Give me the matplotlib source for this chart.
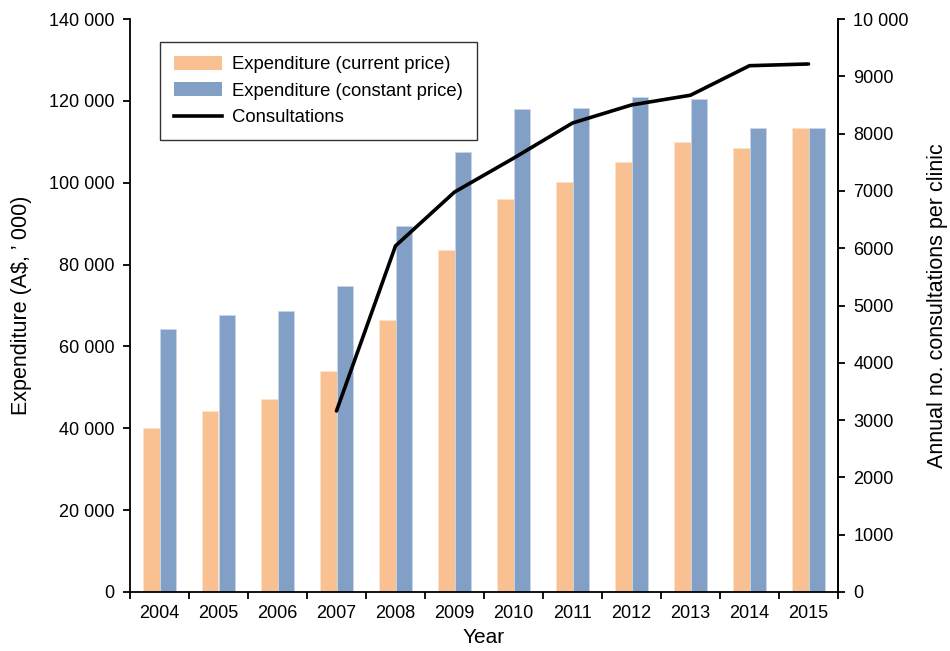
import matplotlib
matplotlib.use("Agg")
import matplotlib.pyplot as plt
import numpy as np
from matplotlib.patches import Patch
from matplotlib.lines import Line2D

plt.rcParams['font.family'] = ['Liberation Sans', 'DejaVu Sans']

years = ['2004', '2005', '2006', '2007', '2008', '2009', '2010', '2011', '2012', '2013', '2014', '2015']
current_price = [40000, 44300, 47100, 53900, 66400, 83600, 96100, 100200, 105100, 110000, 108600, 113400]
constant_price = [64200, 67700, 68700, 74800, 89400, 107400, 118000, 118300, 120900, 120500, 113300, 113400]
cons_years = ['2007', '2008', '2009', '2010', '2011', '2012', '2013', '2014', '2015']
consultations = [3160, 6040, 6980, 7570, 8185, 8500, 8670, 9185, 9215]

left_ticks = [0, 20000, 40000, 60000, 80000, 100000, 120000, 140000]
left_labels = ['0', '20 000', '40 000', '60 000', '80 000', '100 000', '120 000', '140 000']
right_ticks = [0, 1000, 2000, 3000, 4000, 5000, 6000, 7000, 8000, 9000, 10000]
right_labels = ['0', '1000', '2000', '3000', '4000', '5000', '6000', '7000', '8000', '9000', '10 000']

c_orange = '#F9C091'
c_blue = '#829FC5'

fig = plt.figure(figsize=(9.5, 6.51), dpi=100)
ax = fig.add_axes([130/950, 1-592/651, 708/950, 573/651])
x = np.arange(len(years))
w = 0.288
ax.bar(x - w/2, current_price, w, color=c_orange, edgecolor='#fde3cc', linewidth=0.6)
ax.bar(x + w/2, constant_price, w, color=c_blue, edgecolor='#c9d6e8', linewidth=0.6)
ax.set_xlim(-0.5, len(years) - 0.5)
ax.set_ylim(0, 140000)
ax.set_yticks(left_ticks)
ax.set_yticklabels(left_labels, fontsize=13)
ax.set_xticks(x)
ax.set_xticklabels(years, fontsize=13)
ax.tick_params(axis='x', which='major', length=0, pad=9)
ax.set_xticks(np.arange(-0.5, len(years), 1.0), minor=True)
ax.tick_params(axis='x', which='minor', length=5, width=1.3, direction='out')
ax.tick_params(axis='y', length=5, width=1.3, direction='out', pad=6)
ax.spines['top'].set_visible(False)
for s in ['left', 'bottom', 'right']:
    ax.spines[s].set_linewidth(1.3)
ax.set_xlabel('Year', fontsize=15, labelpad=5)
ax.set_ylabel('Expenditure (A$, ’ 000)', fontsize=15.5, labelpad=12)

ax2 = ax.twinx()
cx = [years.index(y) for y in cons_years]
ax2.plot(cx, consultations, color='black', linewidth=2.6, solid_capstyle='round', solid_joinstyle='miter')
ax2.set_ylim(0, 10000)
ax2.set_yticks(right_ticks)
ax2.set_yticklabels(right_labels, fontsize=13)
ax2.tick_params(axis='y', length=5, width=1.3, direction='out', pad=6)
ax2.spines['top'].set_visible(False)
ax2.spines['right'].set_linewidth(1.3)
ax2.spines['left'].set_visible(False)
ax2.spines['bottom'].set_visible(False)
ax2.set_ylabel('Annual no. consultations per clinic', fontsize=15.5, labelpad=13)

handles = [Patch(facecolor=c_orange, edgecolor='none'),
           Patch(facecolor=c_blue, edgecolor='none'),
           Line2D([0], [0], color='black', linewidth=2.6)]
labels = ['Expenditure (current price)', 'Expenditure (constant price)', 'Consultations']
leg = ax2.legend(handles, labels, loc='upper left', bbox_to_anchor=(0.043, 0.96),
                 fontsize=13.3, frameon=True, fancybox=False, edgecolor='black',
                 borderpad=0.75, handlelength=2.6, handleheight=0.78, labelspacing=0.5,
                 handletextpad=0.55, borderaxespad=0)
leg.get_frame().set_linewidth(1.0)

fig.savefig('out.png', dpi=100)
